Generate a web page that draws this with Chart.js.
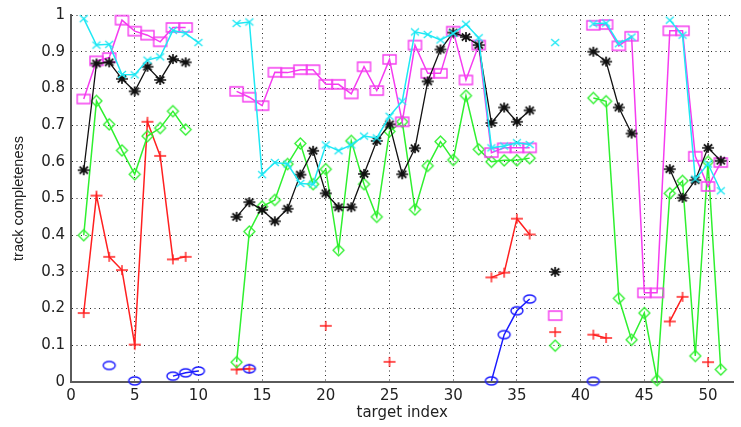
<!DOCTYPE html>
<html>
<head>
<meta charset="utf-8">
<script src="https://cdn.jsdelivr.net/npm/chart.js@4/dist/chart.umd.min.js"></script>
<style>
html,body{margin:0;padding:0;background:#fff;}
#wrap{width:741px;height:427px;}
</style>
</head>
<body>
<div id="wrap"><canvas id="c" width="741" height="427"></canvas></div>
<script>
// ---- data (target index 1..51, null = no value) ----
const targetIndex = Array.from({length: 51}, (_, i) => i + 1);
const xTicks = [0, 5, 10, 15, 20, 25, 30, 35, 40, 45, 50];
const yTicks = [0, 0.1, 0.2, 0.3, 0.4, 0.5, 0.6, 0.7, 0.8, 0.9, 1];
const yTickLabels = ['0', '0.1', '0.2', '0.3', '0.4', '0.5', '0.6', '0.7', '0.8', '0.9', '1'];

const cyanSeries = [0.99,0.918,0.92,0.838,0.837,0.877,0.886,0.958,0.95,0.925,
  null,null,0.977,0.981,0.565,0.598,0.594,0.541,0.539,0.646,
  0.63,0.646,0.67,0.665,0.724,0.765,0.954,0.947,0.932,0.95,
  0.975,0.938,0.638,0.643,0.652,0.647,null,0.925,null,null,
  0.976,0.978,0.922,0.94,null,null,0.986,0.945,0.553,0.594,0.521];

const magentaSeries = [0.771,0.875,0.884,0.986,0.956,0.945,0.927,0.966,0.966,null,
  null,null,0.792,0.776,0.753,0.844,0.843,0.851,0.851,0.811,
  0.811,0.785,0.859,0.794,0.879,0.709,0.918,0.841,0.841,0.956,
  0.823,0.918,0.625,0.638,0.638,0.638,null,0.181,null,null,
  0.972,0.974,0.916,0.942,0.243,0.243,0.957,0.957,0.615,0.533,0.598];

const blackSeries = [0.577,0.868,0.871,0.826,0.792,0.859,0.823,0.88,0.871,null,
  null,null,0.45,0.49,0.469,0.438,0.472,0.565,0.63,0.514,
  0.476,0.476,0.567,0.657,0.702,0.566,0.637,0.819,0.906,0.952,
  0.94,0.918,0.706,0.748,0.709,0.74,null,0.30,null,null,
  0.9,0.873,0.748,0.677,null,null,0.58,0.502,0.55,0.638,0.603];

const greenSeries = [0.40,0.766,0.702,0.631,0.566,0.67,0.692,0.738,0.688,null,
  null,null,0.054,0.41,0.478,0.496,0.594,0.65,0.539,0.58,
  0.359,0.657,0.539,0.45,0.683,0.709,0.47,0.589,0.655,0.605,
  0.78,0.634,0.6,0.604,0.604,0.61,null,0.099,null,null,
  0.774,0.765,0.228,0.115,0.188,0.005,0.514,0.548,0.071,0.6,0.034];

const redSeries = [0.188,0.508,0.341,0.305,0.102,0.709,0.616,0.334,0.341,null,
  null,null,0.034,0.036,null,null,null,null,null,0.153,
  null,null,null,null,0.055,null,null,null,null,null,
  null,null,0.285,0.298,0.445,0.402,null,0.136,null,null,
  0.129,0.12,null,null,null,null,0.165,0.232,null,0.054,null];

const blueSeries = [null,null,0.045,null,0.003,null,null,0.016,0.025,0.03,
  null,null,null,0.036,null,null,null,null,null,null,
  null,null,null,null,null,null,null,null,null,null,
  null,null,0.003,0.129,0.194,0.226,null,null,null,null,
  0.002,null,null,null,null,null,null,null,null,null,null];

// ---- marker images ----
function marker(kind, color, w, h, lw) {
  const pad = 2;
  const c = document.createElement('canvas');
  c.width = w + pad * 2; c.height = h + pad * 2;
  const g = c.getContext('2d');
  g.strokeStyle = color; g.lineWidth = lw;
  const cx = c.width / 2, cy = c.height / 2, rx = w / 2, ry = h / 2;
  g.beginPath();
  if (kind === 'square') {
    g.rect(cx - rx, cy - ry, w, h);
  } else if (kind === 'circle') {
    g.ellipse(cx, cy, rx, ry, 0, 0, Math.PI * 2);
  } else if (kind === 'diamond') {
    g.moveTo(cx, cy - ry); g.lineTo(cx + rx, cy); g.lineTo(cx, cy + ry); g.lineTo(cx - rx, cy); g.closePath();
  } else if (kind === 'plus') {
    g.moveTo(cx - rx, cy); g.lineTo(cx + rx, cy); g.moveTo(cx, cy - ry); g.lineTo(cx, cy + ry);
  } else if (kind === 'x') {
    g.moveTo(cx - rx, cy - ry); g.lineTo(cx + rx, cy + ry); g.moveTo(cx + rx, cy - ry); g.lineTo(cx - rx, cy + ry);
  } else if (kind === 'star') {
    g.moveTo(cx - rx, cy); g.lineTo(cx + rx, cy); g.moveTo(cx, cy - ry); g.lineTo(cx, cy + ry);
    g.moveTo(cx - rx * 0.7, cy - ry * 0.7); g.lineTo(cx + rx * 0.7, cy + ry * 0.7);
    g.moveTo(cx + rx * 0.7, cy - ry * 0.7); g.lineTo(cx - rx * 0.7, cy + ry * 0.7);
  }
  g.stroke();
  return c;
}

const C_CYAN = '#1ee8f4', C_MAG = '#f53cf0', C_BLACK = '#111111', C_GREEN = '#2ff02f', C_RED = '#ff2020', C_BLUE = '#1a1aff';

function ds(values, color, pointImg, width) {
  return {
    data: targetIndex.map((x, i) => ({x: x, y: values[i]})),
    borderColor: color,
    backgroundColor: color,
    borderWidth: width,
    pointStyle: pointImg,
    pointRadius: 6,
    spanGaps: false,
    clip: false,
    tension: 0
  };
}

const datasets = [
  ds(cyanSeries, C_CYAN, marker('x', C_CYAN, 8, 7, 1.3), 1.5),
  ds(blackSeries, C_BLACK, marker('star', C_BLACK, 12, 10, 1.7), 1.3),
  ds(magentaSeries, C_MAG, marker('square', C_MAG, 13, 9, 1.4), 1.5),
  ds(blueSeries, C_BLUE, marker('circle', C_BLUE, 12, 8, 1.4), 1.5),
  ds(greenSeries, C_GREEN, marker('diamond', C_GREEN, 11, 11, 1.3), 1.5),
  ds(redSeries, C_RED, marker('plus', C_RED, 12, 10, 1.4), 1.5)
];

const tickFont = {family: 'DejaVu Sans', size: 15};
const gridStyle = {color: 'rgba(0,0,0,0.85)', lineWidth: 1, drawTicks: false};
const borderStyle = {display: true, color: '#5a5a5a', width: 2, dash: [1, 3.5]};

new Chart(document.getElementById('c'), {
  type: 'line',
  data: {datasets: datasets},
  options: {
    responsive: false,
    animation: false,
    events: [],
    layout: {padding: {left: 0, right: 1, top: 13, bottom: 0}},
    plugins: {legend: {display: false}, tooltip: {enabled: false}},
    scales: {
      x: {
        type: 'linear', min: 0, max: 52,
        afterFit: s => { s.height = 45; },
        afterBuildTicks: s => { s.ticks = xTicks.map(v => ({value: v})); },
        ticks: {font: tickFont, color: '#222', padding: 5, maxRotation: 0, autoSkip: false,
          callback: v => String(v)},
        grid: gridStyle,
        border: borderStyle,
        title: {display: true, text: 'target index', font: {family: 'DejaVu Sans', size: 15}, color: '#222', padding: {top: 0, bottom: 5}}
      },
      y: {
        type: 'linear', min: 0, max: 1,
        afterFit: s => { s.width = 71; },
        afterBuildTicks: s => { s.ticks = yTicks.map(v => ({value: v})); },
        ticks: {font: tickFont, color: '#222', padding: 6, autoSkip: false,
          callback: (v, i) => yTickLabels[i]},
        grid: gridStyle,
        border: borderStyle,
        title: {display: true, text: 'track completeness', font: {family: 'Liberation Sans', size: 14.5}, color: '#222', padding: {top: 10, bottom: 0}}
      }
    }
  }
});
</script>
</body>
</html>
